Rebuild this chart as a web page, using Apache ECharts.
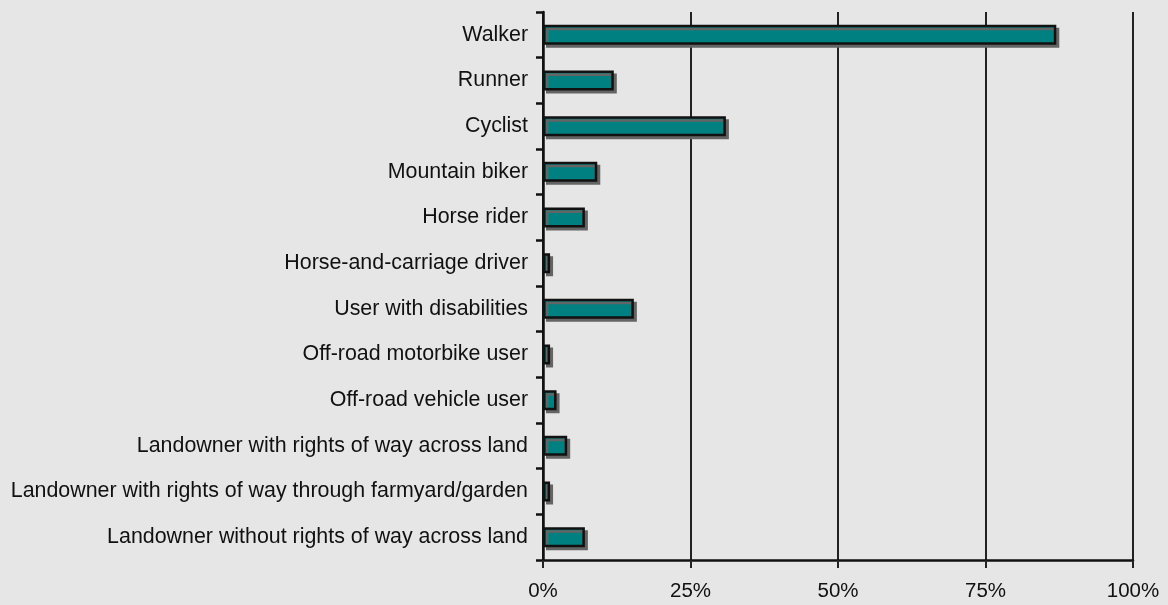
<!DOCTYPE html>
<html>
<head>
<meta charset="utf-8">
<script src="https://cdn.jsdelivr.net/npm/echarts@6/dist/echarts.min.js"></script>
<style>
html,body{margin:0;padding:0;background:#e6e6e6;}
#chart{width:1168px;height:605px;}
</style>
</head>
<body>
<div id="chart"></div>
<script>
const categories = [
  "Walker",
  "Runner",
  "Cyclist",
  "Mountain biker",
  "Horse rider",
  "Horse-and-carriage driver",
  "User with disabilities",
  "Off-road motorbike user",
  "Off-road vehicle user",
  "Landowner with rights of way across land",
  "Landowner with rights of way through farmyard/garden",
  "Landowner without rights of way across land"
];
const values = [87, 12, 31, 9.2, 7.1, 1.2, 15.4, 1.2, 2.3, 4.1, 1.2, 7.1];
const xTicks = [0, 25, 50, 75, 100];

const chart = echarts.init(document.getElementById('chart'), null, {renderer: 'canvas'});
chart.setOption({
  backgroundColor: '#e6e6e6',
  animation: false,
  grid: {left: 543, right: 35, top: 12, bottom: 45, containLabel: false},
  xAxis: {
    type: 'value',
    min: xTicks[0],
    max: xTicks[xTicks.length - 1],
    interval: 25,
    axisLine: {show: true, lineStyle: {color: '#111', width: 2.5}},
    axisTick: {show: true, length: 8, lineStyle: {color: '#222', width: 2}},
    axisLabel: {
      formatter: v => v + '%',
      fontFamily: 'Liberation Sans, Arial, sans-serif',
      fontSize: 20.5,
      color: '#111',
      margin: 21
    },
    splitLine: {show: true, lineStyle: {color: '#222', width: 2}}
  },
  yAxis: {
    type: 'category',
    data: categories,
    inverse: true,
    axisLine: {show: true, lineStyle: {color: '#111', width: 2.5}},
    axisTick: {show: true, length: 7, lineStyle: {color: '#111', width: 2.5}},
    axisLabel: {
      fontFamily: 'Liberation Sans, Arial, sans-serif',
      fontSize: 21.4,
      color: '#111',
      margin: 15
    },
    splitLine: {show: false}
  },
  series: [{
    type: 'bar',
    data: values,
    barWidth: 20,
    itemStyle: {
      color: '#008080',
      borderColor: '#111',
      borderWidth: 2.5,
      shadowColor: 'rgba(100,100,100,1)',
      shadowBlur: 0,
      shadowOffsetX: 3,
      shadowOffsetY: 3
    },
    emphasis: {disabled: true}
  }]
});
</script>
</body>
</html>
